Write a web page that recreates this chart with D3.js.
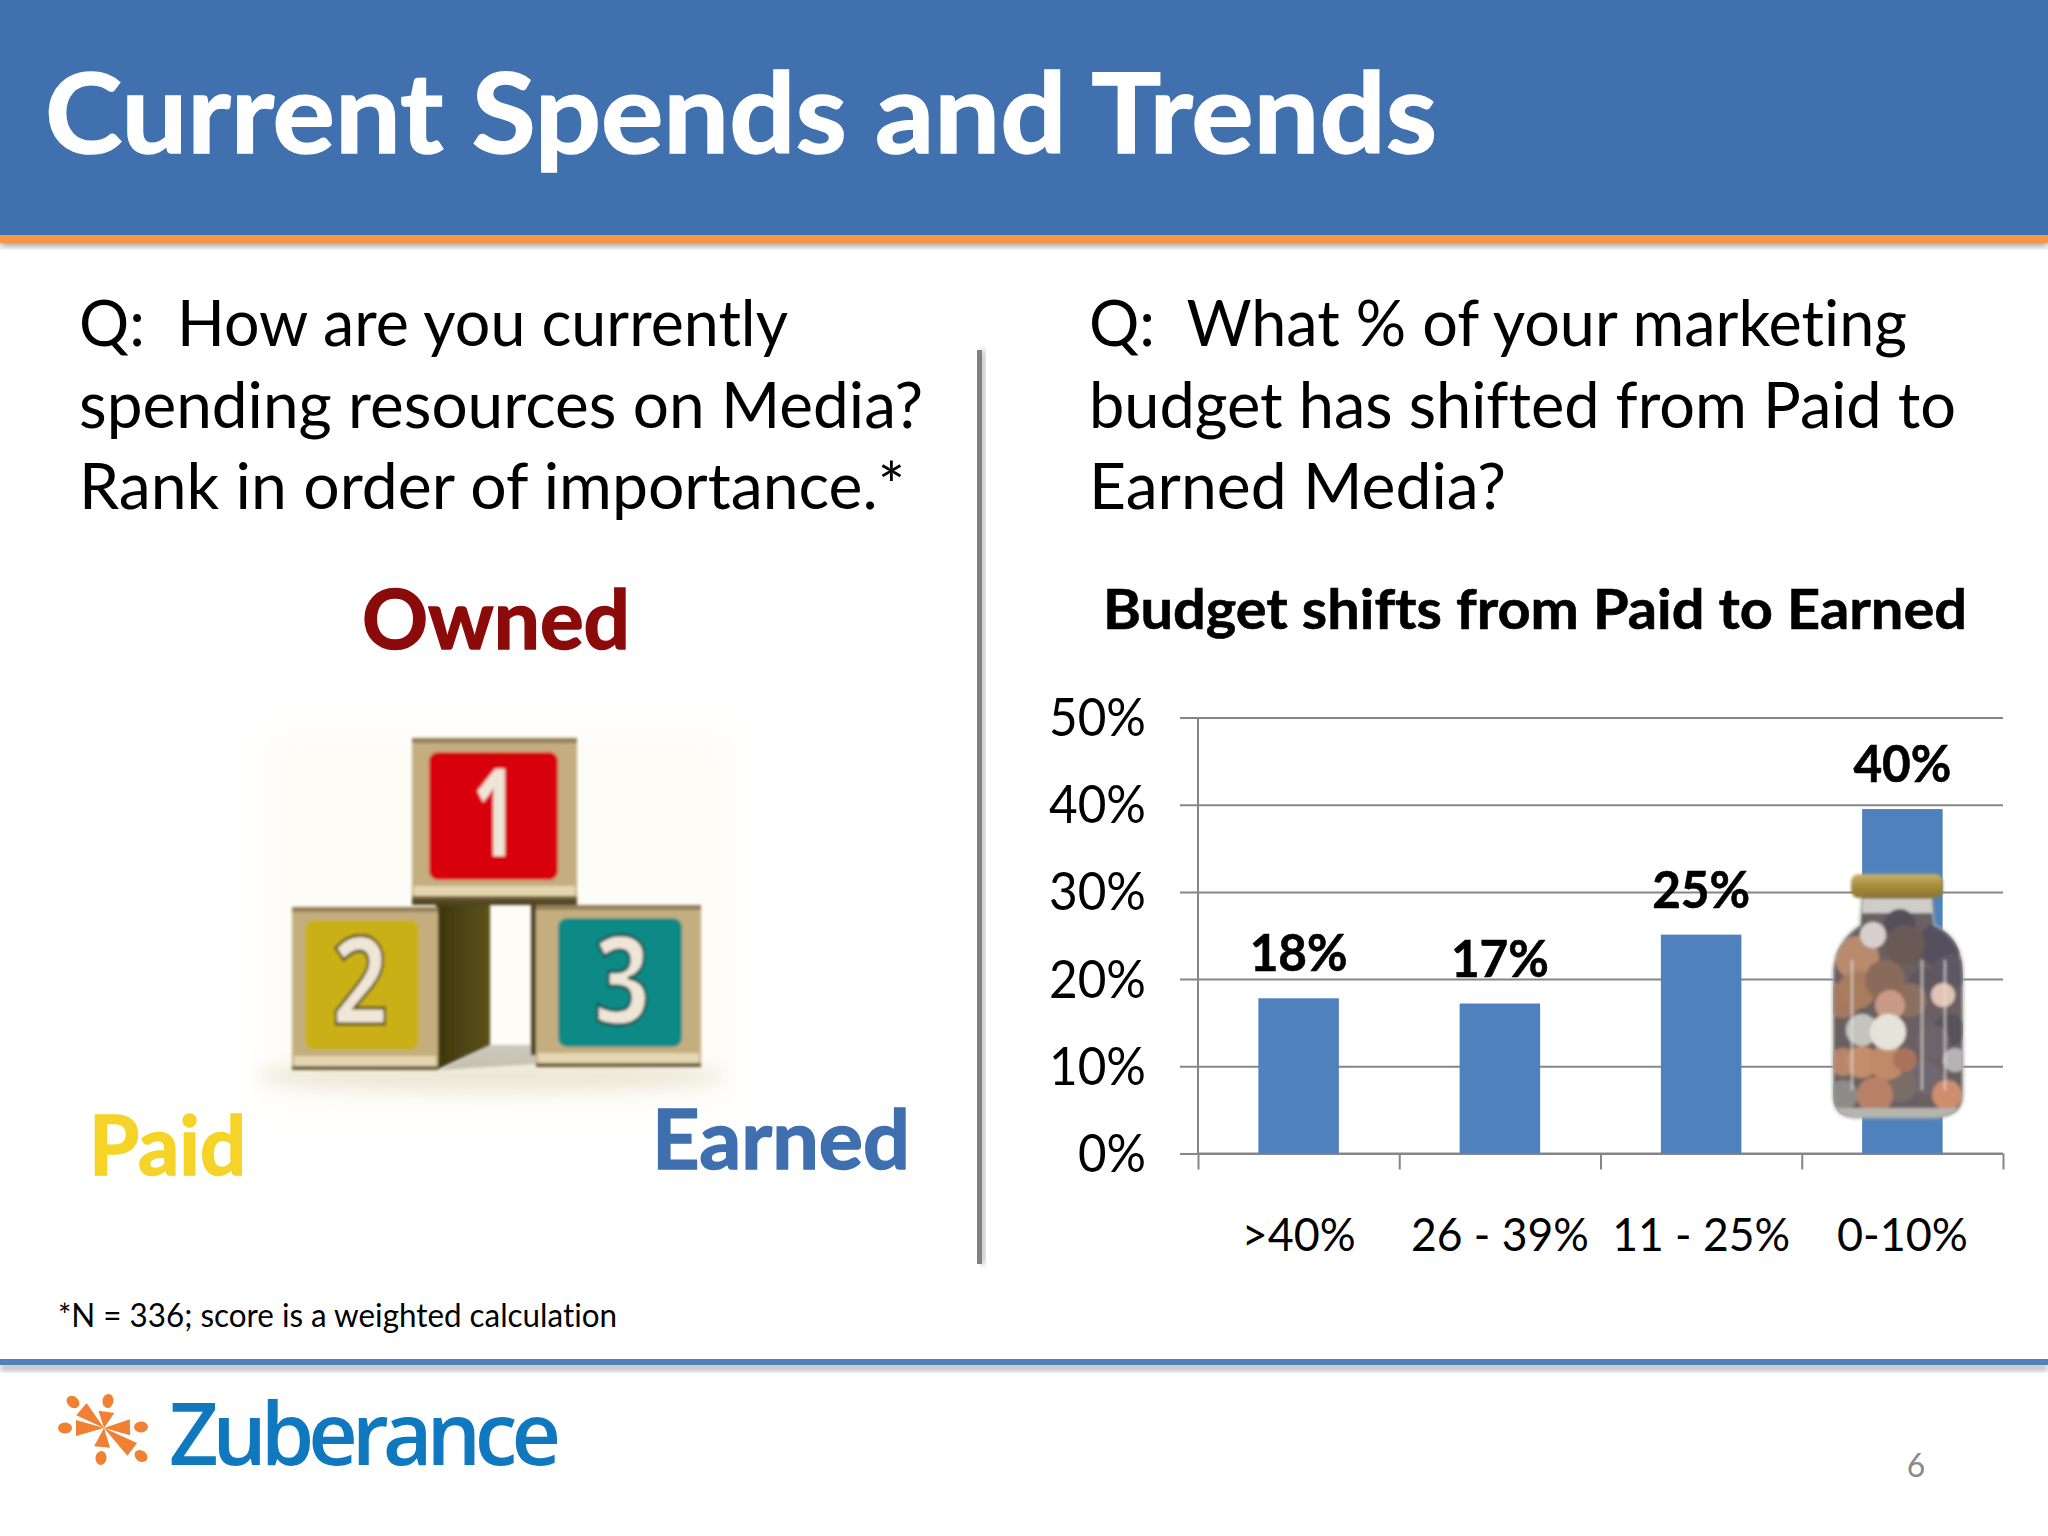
<!DOCTYPE html>
<html>
<head>
<meta charset="utf-8">
<script src="https://cdn.jsdelivr.net/npm/d3@7"></script>
<style>
  html, body { margin: 0; padding: 0; background: #fff; }
  svg { display: block; }
  text { font-family: Lato, "Open Sans", sans-serif; font-variant-ligatures: none; }
</style>
</head>
<body>
<script>
// chart data
const categories = [">40%", "26 - 39%", "11 - 25%", "0-10%"];
const shiftValues = [17.8, 17.2, 25.1, 39.5];
const shiftLabels = ["18%", "17%", "25%", "40%"];
const yTicks = [0, 10, 20, 30, 40, 50];

// slide text
const leftLines = ["Q:  How are you currently", "spending resources on Media?", "Rank in order of importance.*"];
const leftWidths = [709, 844, 826];
const rightLines = ["Q:  What % of your marketing", "budget has shifted from Paid to", "Earned Media?"];
const rightWidths = [818, 867, 417];

// jar contents, hand placed: x, y, r, colour
const coins = [
  [1900, 925, 16, "#55505a"], [1940, 945, 22, "#54505e"], [1905, 945, 20, "#6a5a55"],
  [1950, 972, 18, "#5d5965"], [1925, 985, 17, "#5e565e"], [1950, 1030, 16, "#57535d"],
  [1933, 1042, 17, "#6d646a"], [1925, 1078, 17, "#6f6870"], [1900, 1085, 17, "#7a6c66"],
  [1910, 1000, 17, "#8a705f"], [1843, 1000, 18, "#a5785e"], [1857, 958, 22, "#b98a6c"],
  [1857, 990, 19, "#a87b5c"], [1885, 980, 20, "#8a6a5a"], [1890, 1005, 15, "#c99a85"],
  [1843, 1062, 14, "#b98468"], [1843, 1095, 15, "#8d8c88"], [1875, 1095, 18, "#b98068"],
  [1862, 1062, 16, "#c48d6c"], [1887, 1062, 18, "#c08a68"], [1905, 1060, 12, "#a8735a"],
  [1862, 1030, 16, "#c4c4bc"], [1888, 1032, 18, "#e6e4da"], [1873, 935, 13, "#d8cfd0"],
  [1955, 1060, 12, "#b5b3b8"], [1947, 1095, 15, "#cf8e6e"], [1943, 995, 12, "#e0c4b4"]
];

// logo arm ends: x, y
const logoArms = [[73, 1402], [108, 1401], [141, 1427], [141, 1456], [101, 1458], [65, 1428]];

const W = 2048, H = 1536;
const svg = d3.select("body").append("svg").attr("width", W).attr("height", H);
const defs = svg.append("defs");

function blur(id, dev) {
  defs.append("filter").attr("id", id)
    .attr("x", "-20%").attr("y", "-50%").attr("width", "140%").attr("height", "200%")
    .append("feGaussianBlur").attr("stdDeviation", dev);
}
blur("soft", 1.6);
blur("shadow", 3);
blur("ground", 9);
blur("glow", 16);

// fixed width text, the glyphs get squeezed to fit what the slide shows
function label(g, str, x, y, size, width, opts = {}) {
  const t = g.append("text")
    .attr("x", x).attr("y", y)
    .attr("font-size", size)
    .attr("font-weight", opts.bold ? 700 : 400)
    .attr("fill", opts.fill || "#000")
    .attr("textLength", width)
    .attr("lengthAdjust", "spacingAndGlyphs")
    .style("white-space", "pre")
    .text(str);
  if (opts.heavy) t.attr("stroke", opts.fill || "#000").attr("stroke-width", opts.heavy);
  return t;
}

// header band
svg.append("rect").attr("x", 0).attr("y", 238).attr("width", W).attr("height", 8)
  .attr("fill", "#9a9a9a").attr("filter", "url(#shadow)");
svg.append("rect").attr("width", W).attr("height", 235).attr("fill", "#4170af");
svg.append("rect").attr("y", 235).attr("width", W).attr("height", 8).attr("fill", "#f79646");
label(svg, "Current Spends and Trends", 45, 153, 111, 1392, { bold: true, fill: "#fff", heavy: 1.5 });

// questions
leftLines.forEach((d, i) => label(svg, d, 79, 346 + i * 81.5, 63, leftWidths[i]));
rightLines.forEach((d, i) => label(svg, d, 1089, 346 + i * 81.5, 63, rightWidths[i]));

// divider
svg.append("rect").attr("x", 980).attr("y", 350).attr("width", 5).attr("height", 914)
  .attr("fill", "#b0b0b0").attr("filter", "url(#shadow)");
svg.append("rect").attr("x", 977).attr("y", 350).attr("width", 5).attr("height", 914).attr("fill", "#808080");

// blocks picture
const blocks = svg.append("g");
blocks.append("rect").attr("x", 265).attr("y", 730).attr("width", 470).attr("height", 380)
  .attr("fill", "#fdfcf7").attr("filter", "url(#glow)");
blocks.append("ellipse").attr("cx", 490).attr("cy", 1076).attr("rx", 235).attr("ry", 16)
  .attr("fill", "#ece8d6").attr("filter", "url(#ground)");
const soft = blocks.append("g").attr("filter", "url(#soft)");

const side = defs.append("linearGradient").attr("id", "side").attr("x1", 0).attr("x2", 1).attr("y1", 0).attr("y2", 0);
side.append("stop").attr("offset", "0").attr("stop-color", "#3c3410");
side.append("stop").attr("offset", "1").attr("stop-color", "#5c5214");

// side of the yellow block and the gap behind it
soft.append("path").attr("d", "M436,900 L490,900 L490,1045 L436,1070 Z").attr("fill", "url(#side)");
soft.append("path").attr("d", "M440,1070 L490,1045 L536,1045 L536,1064 Z").attr("fill", "#a39c8c").attr("opacity", 0.55);
soft.append("rect").attr("x", 531).attr("y", 905).attr("width", 8).attr("height", 150).attr("fill", "#4c4328");
soft.append("rect").attr("x", 412).attr("y", 896).attr("width", 165).attr("height", 9).attr("fill", "#4f4420");

function block(x, y, w, h, fx, fy, fw, fh, colour) {
  soft.append("rect").attr("x", x).attr("y", y).attr("width", w).attr("height", h)
    .attr("rx", 4).attr("fill", "#c4ae80");
  soft.append("rect").attr("x", x + 2).attr("y", y + h - 14).attr("width", w - 4).attr("height", 10).attr("fill", "#e4d6b0");
  soft.append("rect").attr("x", x).attr("y", y + h - 4).attr("width", w).attr("height", 4).attr("fill", "#6e5c38");
  soft.append("rect").attr("x", x).attr("y", y).attr("width", w).attr("height", 5).attr("fill", "#94805a");
  soft.append("rect").attr("x", fx).attr("y", fy).attr("width", fw).attr("height", fh)
    .attr("rx", 9).attr("fill", colour);
}
block(292, 907, 146, 163, 305, 920, 114, 130, "#c9b012");
block(536, 905, 165, 162, 558, 918, 124, 129, "#118a86");
block(412, 738, 165, 162, 429, 752, 129, 128, "#d80208");

function digit(str, x, y, stroke) {
  soft.append("text").attr("x", x).attr("y", y).attr("text-anchor", "middle")
    .attr("font-size", 122).attr("font-weight", 700)
    .style("font-family", "'Open Sans', sans-serif")
    .attr("fill", "#efe6d8").attr("stroke", stroke).attr("stroke-width", 3)
    .attr("textLength", str === "1" ? 44 : 56).attr("lengthAdjust", "spacingAndGlyphs")
    .text(str);
}
digit("1", 495, 856, "none");
digit("2", 360, 1024, "#5e5310");
digit("3", 622, 1024, "#0d4f4c");

// Owned / Paid / Earned
label(svg, "Owned", 362, 649, 82, 268, { bold: true, fill: "#8b0a0a", heavy: 1.5 });
label(svg, "Paid", 89, 1175, 82, 157, { bold: true, fill: "#f5d327", heavy: 1.5 });
label(svg, "Earned", 652, 1169, 82, 258, { bold: true, fill: "#3f6fae", heavy: 1.5 });

// footnote
label(svg, "*N = 336; score is a weighted calculation", 58, 1327, 32, 559);

// chart
label(svg, "Budget shifts from Paid to Earned", 1103, 629, 56, 864, { bold: true, heavy: 0.6 });

const plotLeft = 1198, plotRight = 2003, plotTop = 717.5, plotBottom = 1153.5;
const chart = svg.append("g");

const x = d3.scaleBand().domain(categories).range([plotLeft, plotRight]).paddingInner(0.6).paddingOuter(0.3);
const y = d3.scaleLinear().domain([0, 50]).range([plotBottom, plotTop]);
const edges = d3.scaleLinear().domain([0, categories.length]).range([plotLeft, plotRight]);

// gridlines come from the y axis ticks
const yAxis = chart.append("g")
  .attr("transform", `translate(${plotLeft},0)`)
  .call(d3.axisLeft(y).tickValues(yTicks).tickFormat(d => d + "%").tickSize(18).tickPadding(35));
yAxis.selectAll(".tick line").attr("x2", plotRight - plotLeft).attr("x1", -18);
yAxis.selectAll(".tick line, .domain").attr("stroke", "#868686").attr("stroke-width", 2);
yAxis.select(".domain").attr("d", `M0,${plotTop}V${plotBottom}`);
yAxis.selectAll(".tick text")
  .attr("x", 1146 - plotLeft).attr("dy", "0.34em")
  .attr("font-size", 53).attr("fill", "#000")
  .style("font-family", "Lato, sans-serif")
  .attr("textLength", d => (d === 0 ? 68 : 97)).attr("lengthAdjust", "spacingAndGlyphs");

// category ticks sit between the bars, labels in the middle of the band
const xTicks = chart.append("g")
  .attr("transform", `translate(0,${plotBottom})`)
  .call(d3.axisBottom(edges).tickValues(d3.range(categories.length + 1)).tickFormat("").tickSize(16));
xTicks.selectAll(".tick line").attr("stroke", "#868686").attr("stroke-width", 2);
xTicks.select(".domain").attr("stroke", "#868686").attr("stroke-width", 2)
  .attr("d", `M${plotLeft},0H${plotRight}`);

const catWidths = [114, 178, 178, 131];
const xAxis = chart.append("g")
  .attr("transform", `translate(0,${plotBottom})`)
  .call(d3.axisBottom(x).tickSize(0));
xAxis.select(".domain").remove();
xAxis.selectAll(".tick text")
  .attr("y", 1251 - plotBottom).attr("dy", 0)
  .attr("font-size", 47).attr("fill", "#000")
  .style("font-family", "Lato, sans-serif")
  .attr("textLength", (d, i) => catWidths[i]).attr("lengthAdjust", "spacingAndGlyphs");

chart.selectAll("rect.bar")
  .data(shiftValues)
  .enter()
  .append("rect")
  .attr("class", "bar")
  .attr("x", (d, i) => x(categories[i]))
  .attr("y", d => y(d))
  .attr("width", x.bandwidth())
  .attr("height", d => plotBottom - y(d))
  .attr("fill", "#4f81bd");

chart.selectAll("text.value")
  .data(shiftValues)
  .enter()
  .append("text")
  .attr("class", "value")
  .attr("x", (d, i) => x(categories[i]) + x.bandwidth() / 2)
  .attr("y", d => y(d) - 27)
  .attr("text-anchor", "middle")
  .attr("font-size", 52).attr("font-weight", 700)
  .attr("stroke", "#000").attr("stroke-width", 0.6)
  .attr("textLength", 98).attr("lengthAdjust", "spacingAndGlyphs")
  .text((d, i) => shiftLabels[i]);

// coin jar over the last bar
const jar = svg.append("g");
const bodyPath = "M1862,897 L1932,897 L1934,925 C1955,935 1963,950 1963,975 L1963,1095 C1963,1112 1950,1118 1930,1118 L1860,1118 C1842,1118 1833,1112 1833,1095 L1833,975 C1833,950 1845,935 1860,925 Z";
defs.append("clipPath").attr("id", "jarClip").append("path").attr("d", bodyPath);
const lid = defs.append("linearGradient").attr("id", "lid").attr("x1", 0).attr("x2", 0).attr("y1", 0).attr("y2", 1);
lid.append("stop").attr("offset", "0").attr("stop-color", "#cbb36a");
lid.append("stop").attr("offset", "0.5").attr("stop-color", "#a78a3a");
lid.append("stop").attr("offset", "1").attr("stop-color", "#8c7430");

const inner = jar.append("g").attr("clip-path", "url(#jarClip)").attr("filter", "url(#soft)");
inner.append("path").attr("d", bodyPath).attr("fill", "#6a6064");
inner.append("rect").attr("x", 1845).attr("y", 897).attr("width", 105).attr("height", 16).attr("fill", "#d0cdc9");
inner.selectAll("circle").data(coins).enter().append("circle")
  .attr("cx", d => d[0]).attr("cy", d => d[1]).attr("r", d => d[2]).attr("fill", d => d[3]);
inner.append("rect").attr("x", 1833).attr("y", 1108).attr("width", 130).attr("height", 10).attr("fill", "#b5b5ae");
inner.selectAll("line").data([1852, 1922, 1945]).enter().append("line")
  .attr("x1", d => d).attr("x2", d => d).attr("y1", 960).attr("y2", 1090)
  .attr("stroke", "#e6e3e0").attr("stroke-width", 2).attr("opacity", 0.7);
jar.append("path").attr("d", bodyPath).attr("fill", "none").attr("stroke", "#a8a8a6").attr("stroke-width", 2).attr("filter", "url(#soft)");
jar.append("rect").attr("x", 1851).attr("y", 874).attr("width", 92).attr("height", 24).attr("rx", 8)
  .attr("fill", "url(#lid)").attr("filter", "url(#soft)");

// footer
svg.append("rect").attr("y", 1365).attr("width", W).attr("height", 5).attr("fill", "#a0a0a0").attr("filter", "url(#shadow)");
svg.append("rect").attr("y", 1359).attr("width", W).attr("height", 6).attr("fill", "#4f81bd");

// logo
const logo = svg.append("g").attr("fill", "#f08034");
const cx = 104, cy = 1428;
logoArms.forEach(d => {
  const dx = d[0] - cx, dy = d[1] - cy;
  const len = Math.hypot(dx, dy), ux = dx / len, uy = dy / len;
  const angle = Math.atan2(dy, dx) * 180 / Math.PI;
  const ex = d[0] - ux * 11, ey = d[1] - uy * 11;
  logo.append("path").attr("d", `M${cx},${cy} L${ex - uy * 8},${ey + ux * 8} L${ex + uy * 8},${ey - ux * 8} Z`);
  logo.append("ellipse").attr("rx", 7).attr("ry", 5.5)
    .attr("transform", `translate(${d[0]},${d[1]}) rotate(${angle})`);
});
svg.append("text").attr("x", 169).attr("y", 1465)
  .attr("font-size", 86).attr("font-weight", 600).attr("fill", "#0f78be")
  .attr("textLength", 392).attr("lengthAdjust", "spacing")
  .style("font-family", "'Open Sans', sans-serif")
  .text("Zuberance");

// page number
svg.append("text").attr("x", 1916).attr("y", 1477).attr("text-anchor", "middle")
  .attr("font-size", 32).attr("fill", "#8b8b8b").text("6");
</script>
</body>
</html>
